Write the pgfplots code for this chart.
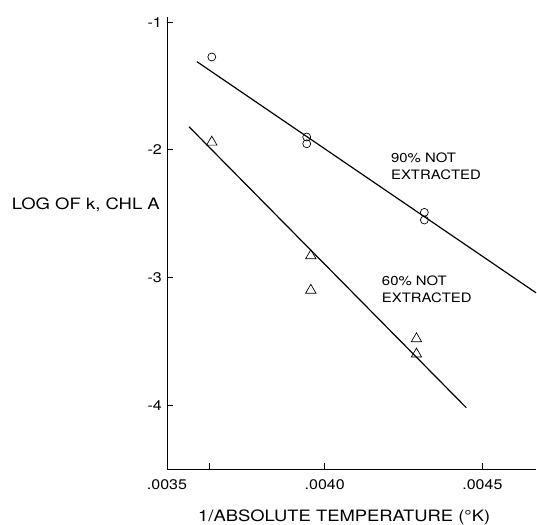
\documentclass[border=0pt]{standalone}
\usepackage{fontspec}
\setmainfont{TeX Gyre Heros}[FakeStretch=1.15]
\usepackage{graphicx}
\usepackage{pgfplots}
\pgfplotsset{compat=1.18}
\begin{document}
\begin{tikzpicture}
\path[use as bounding box] (-167bp,-56bp) rectangle (370bp,469bp);
\begin{axis}[
  at={(0,0)}, anchor=south west,
  scale only axis, width=369bp, height=452bp,
  xmin=0.0035, xmax=0.00467, ymin=-4.5, ymax=-0.96,
  axis x line*=bottom, axis y line*=left,
  axis line style={line width=0.8pt, -},
  scaled x ticks=false,
  xtick={0.0035,0.0040,0.0045},
  xticklabels={.0035,.0040,.0045},
  extra x ticks={0.003636}, extra x tick labels={},
  ytick={-1,-2,-3,-4},
  yticklabels={-1,-2,-3,-4},
  tick align=inside, major tick length=6bp,
  tick style={line width=0.8pt, black},
  /pgf/number format/assume math mode=true,
  ticklabel style={font=\fontsize{14}{16}\selectfont},
  yticklabel style={inner sep=1bp, xshift=-4bp},
  xticklabel style={inner sep=1bp, yshift=-9bp},
  clip=false,
]
\addplot[only marks, mark=o, mark size=4pt, line width=0.7pt] coordinates {
 (0.003642,-1.273) (0.003943,-1.90) (0.003943,-1.953) (0.004316,-2.49) (0.004316,-2.55)};
\addplot[only marks, mark=triangle, mark size=6pt, line width=0.7pt] coordinates {
 (0.003642,-1.94) (0.003956,-2.83) (0.003956,-3.10) (0.004291,-3.48) (0.004291,-3.60)};
\addplot[line width=1.2pt] coordinates {(0.003595,-1.31) (0.00467,-3.12)};
\addplot[line width=1.2pt] coordinates {(0.00357,-1.82) (0.004449,-4.02)};
\node[anchor=west, align=left, inner sep=0pt, font=\fontsize{13}{17}\selectfont] at (axis cs:0.00421,-2.13) {90\% NOT\\EXTRACTED};
\node[anchor=west, align=left, inner sep=0pt, font=\fontsize{13}{17}\selectfont] at (axis cs:0.004181,-3.09) {60\% NOT\\EXTRACTED};
\end{axis}
\node[anchor=east, inner sep=0pt] at (-7bp,264bp) {\resizebox{148bp}{11.7bp}{\fontsize{16}{18}\selectfont LOG OF k, CHL A}};
\node[anchor=west, inner sep=0pt] at (31bp,-48bp) {\resizebox{292bp}{11.7bp}{\fontsize{16}{18}\selectfont 1/ABSOLUTE TEMPERATURE (°K)}};
\end{tikzpicture}
\end{document}
